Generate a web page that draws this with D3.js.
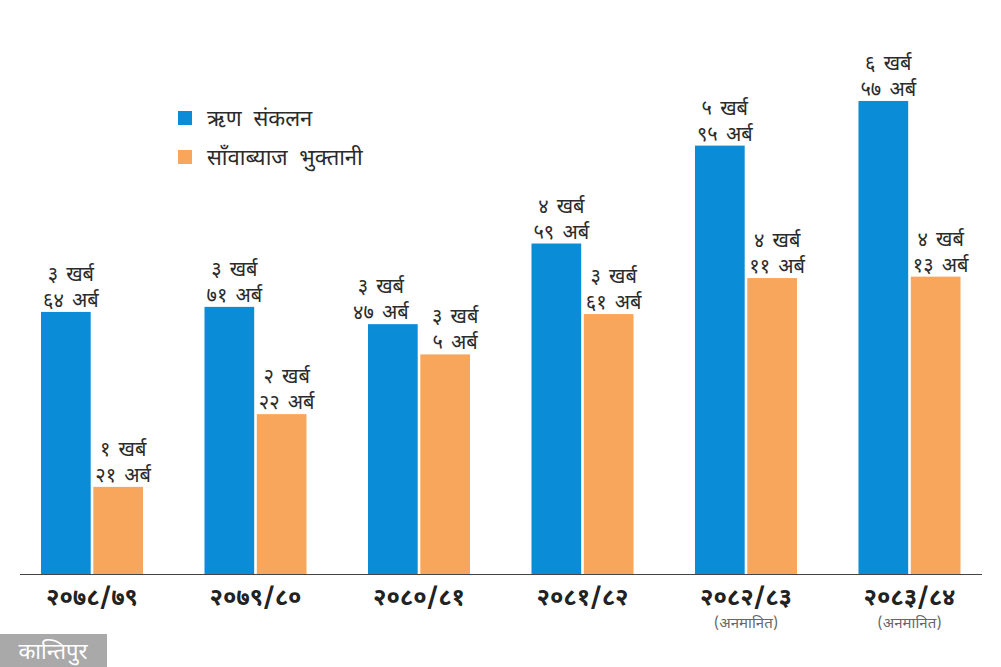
<!DOCTYPE html>
<html>
<head>
<meta charset="utf-8">
<script src="https://cdn.jsdelivr.net/npm/d3@7"></script>
<style>
  body { margin: 0; background: #fff; }
  svg text { font-family: "Noto Sans Devanagari", "Lohit Devanagari", "Noto Sans", sans-serif; }
</style>
</head>
<body>
<div id="chart"></div>
<script>
// fiscal years and values (in arba)
let years = ["२०७८/७९", "२०७९/८०", "२०८०/८१", "२०८१/८२", "२०८२/८३", "२०८३/८४"];
let estimated = [false, false, false, false, true, true];
let seriesNames = ["ऋण संकलन", "साँवाब्याज भुक्तानी"];
let debtCollection = [364, 371, 347, 459, 595, 657];
let debtService = [121, 222, 305, 361, 411, 413];
let colors = ["#0a8cd6", "#f8a65c"];

let width = 1001, height = 667;
let baseline = 574;

let svg = d3.select("#chart")
    .append("svg")
    .attr("width", width)
    .attr("height", height);

let x0 = d3.scaleBand().domain(years).range([41, 960.5]).paddingInner(0.376).paddingOuter(0);
let x1 = d3.scaleBand().domain([0, 1]).range([0, x0.bandwidth()]).paddingInner(0.05);
let y = d3.scaleLinear().domain([0, 700]).range([baseline, baseline - 700 * 0.72]);

const devDigits = "०१२३४५६७८९";
let toDev = n => String(n).split("").map(c => devDigits[+c]).join("");

let data = years.map((yr, i) => ({year: yr, values: [debtCollection[i], debtService[i]]}));

let groups = svg.selectAll(".grp")
    .data(data)
    .enter()
    .append("g")
    .attr("class", "grp")
    .attr("transform", d => "translate(" + x0(d.year) + ",0)");

groups.selectAll("rect")
    .data(d => d.values)
    .enter()
    .append("rect")
    .attr("x", (d, i) => x1(i))
    .attr("y", d => y(d))
    .attr("width", x1.bandwidth())
    .attr("height", d => baseline - y(d))
    .attr("fill", (d, i) => colors[i]);

// two-line value labels; push apart when the pair sits at nearly the same height
groups.each(function(g) {
    let crowded = Math.abs(y(g.values[0]) - y(g.values[1])) < 45;
    d3.select(this).selectAll(".lbl")
        .data(g.values)
        .enter()
        .append("text")
        .attr("class", "lbl")
        .attr("text-anchor", "middle")
        .attr("fill", "#2b2b2b")
        .style("font-size", "20px")
        .style("word-spacing", "3px")
        .each(function(d, i) {
            let t = d3.select(this);
            let shift = crowded ? (i === 0 ? -12 : 10) : 5;
            let cx = x1(i) + x1.bandwidth() / 2 + shift;
            t.append("tspan").attr("x", cx).attr("y", y(d) - 31)
                .text(toDev(Math.floor(d / 100)) + " खर्ब");
            t.append("tspan").attr("x", cx).attr("y", y(d) - 5)
                .text(toDev(d % 100) + " अर्ब");
        });
});

// baseline
svg.append("line")
    .attr("x1", 20).attr("x2", 982)
    .attr("y1", baseline + 0.5).attr("y2", baseline + 0.5)
    .attr("stroke", "#444").attr("stroke-width", 1.2);

// x labels
let xAxis = svg.append("g");
xAxis.selectAll(".xl")
    .data(years)
    .enter()
    .append("text")
    .attr("x", d => x0(d) + x0.bandwidth() / 2)
    .attr("y", 605)
    .attr("text-anchor", "middle")
    .attr("fill", "#222")
    .style("font-size", "24px")
    .style("font-weight", "bold")
    .text(d => d);

xAxis.selectAll(".est")
    .data(years.filter((d, i) => estimated[i]))
    .enter()
    .append("text")
    .attr("x", d => x0(d) + x0.bandwidth() / 2)
    .attr("y", 628)
    .attr("text-anchor", "middle")
    .attr("fill", "#666")
    .style("font-size", "15px")
    .text("(अनमानित)");

// legend
let legend = svg.append("g").attr("transform", "translate(178,111)");
seriesNames.forEach((name, i) => {
    legend.append("rect")
        .attr("x", 0).attr("y", i * 39)
        .attr("width", 14).attr("height", 14)
        .attr("fill", colors[i]);
    legend.append("text")
        .attr("x", 29).attr("y", i * 39 + 15)
        .attr("fill", "#2b2b2b")
        .style("font-size", "22px")
        .style("word-spacing", "6px")
        .text(name);
});

// logo block
let logo = svg.append("g").attr("transform", "translate(0,634)");
logo.append("rect").attr("width", 107).attr("height", 33).attr("fill", "#a9a9a9");
logo.append("text")
    .attr("x", 53).attr("y", 25)
    .attr("text-anchor", "middle")
    .attr("fill", "#fff")
    .style("font-size", "22px")
    .text("कान्तिपुर");
</script>
</body>
</html>
